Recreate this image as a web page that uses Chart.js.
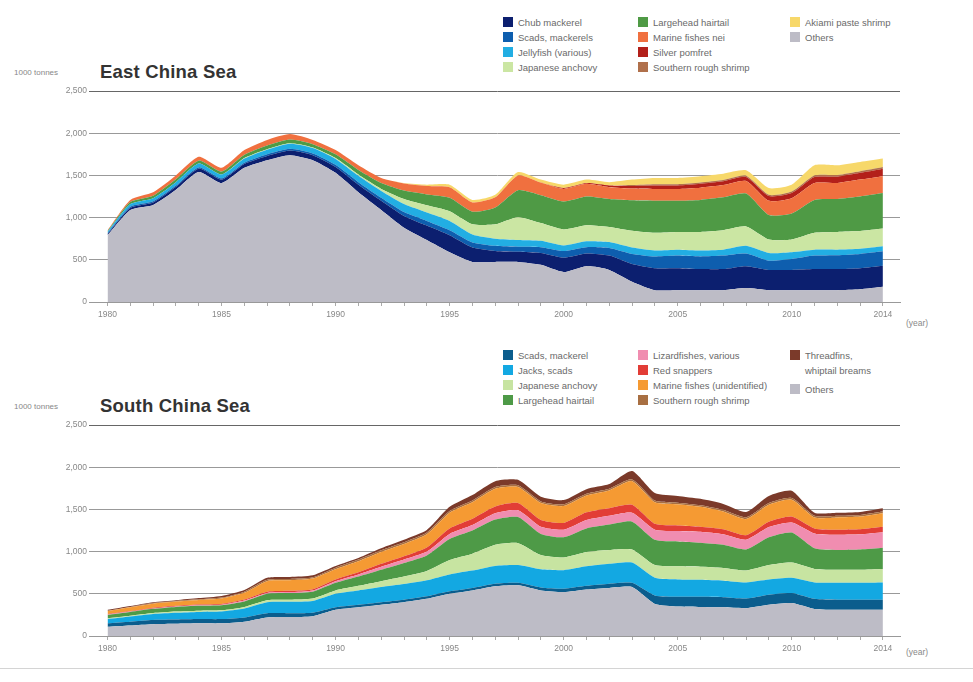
<!DOCTYPE html>
<html>
<head>
<meta charset="utf-8">
<script src="https://cdn.jsdelivr.net/npm/chart.js@4.4.1/dist/chart.umd.min.js"></script>
<style>
  html, body { margin: 0; padding: 0; background: #fff; }
  body { width: 973px; height: 682px; position: relative; overflow: hidden;
         font-family: "Liberation Sans", Arial, sans-serif; }
  canvas { position: absolute; left: 0; }
  .title { position: absolute; left: 100px; font-weight: bold; font-size: 18.5px; color: #333; letter-spacing: 0.2px; }
  .unit { position: absolute; left: 14px; font-size: 8px; color: #888; }
  .yearlbl { position: absolute; left: 906px; font-size: 8.5px; color: #888; }
  .legend { position: absolute; font-size: 9.5px; color: #6a6a6a; line-height: 15px; }
  .legend .item { position: absolute; white-space: nowrap; padding-left: 15px; }
  .legend .sw { position: absolute; left: 0; top: 2px; width: 10px; height: 10px; }
  .rule { position: absolute; left: 0; top: 668px; width: 973px; height: 0; border-top: 1px solid #d4d4d4; }
</style>
</head>
<body>
<div class="unit" style="top:68px">1000 tonnes</div>
<div class="title" style="top:61px">East China Sea</div>
<div class="yearlbl" style="top:318px">(year)</div>
<div class="legend" id="legTop" style="left:503px; top:15px"></div>

<div class="unit" style="top:402px">1000 tonnes</div>
<div class="title" style="top:395px">South China Sea</div>
<div class="yearlbl" style="top:647px">(year)</div>
<div class="legend" id="legBot" style="left:503px; top:348px"></div>
<div class="rule"></div>

<canvas id="ecs" width="973" height="335" style="top:0px"></canvas>
<canvas id="scs" width="973" height="340" style="top:340px"></canvas>

<script>
// Years and labelled ticks shared by both panels
const years = [];
for (let y = 1980; y <= 2014; y++) years.push(y);
const yearTicks = [1980, 1985, 1990, 1995, 2000, 2005, 2010, 2014];
const valueTicks = [0, 500, 1000, 1500, 2000, 2500];

// East China Sea catches, 1000 tonnes (stacked bottom to top)
const ecsOthers    = [790,1090,1150,1330,1540,1410,1590,1680,1740,1680,1530,1300,1090,880,735,590,475,475,475,440,355,425,380,240,140,140,140,140,165,140,140,140,140,150,180];
const ecsChub      = [15,25,30,35,40,40,45,50,55,60,70,90,110,140,170,200,170,130,120,140,170,150,170,210,260,260,250,250,260,240,240,250,250,250,250];
const ecsScads     = [10,15,15,15,15,15,15,20,20,20,25,30,35,45,55,60,60,60,60,70,80,75,90,120,140,150,150,160,150,110,130,160,165,170,170];
const ecsJelly     = [15,30,35,40,45,45,50,55,60,65,70,75,80,95,100,110,95,85,80,75,65,70,70,75,70,70,70,70,90,90,80,70,65,60,60];
const ecsAnchovy   = [0,0,0,0,0,0,5,5,5,5,10,15,25,60,85,115,120,170,270,210,190,190,180,200,210,210,220,230,230,160,150,200,210,210,210];
const ecsHairtail  = [10,25,30,35,35,35,40,45,45,40,45,55,70,100,130,160,150,200,320,330,330,340,330,360,380,370,380,390,390,290,310,390,390,410,420];
const ecsMarine    = [10,25,40,45,45,45,55,65,65,50,50,55,60,85,100,125,110,120,175,150,150,150,140,140,140,140,145,145,150,170,180,200,190,200,200];
const ecsPomfret   = [0,0,0,0,0,0,0,0,0,0,0,0,0,0,0,0,0,0,0,0,10,10,20,30,40,40,45,45,45,55,60,70,75,80,90];
const ecsShrimp    = [0,0,0,0,0,0,0,0,0,0,0,0,0,0,0,0,0,0,0,0,0,0,0,10,15,15,15,15,15,15,20,20,20,20,20];
const ecsAkiami    = [0,0,0,0,0,0,0,0,0,0,0,0,0,5,15,30,30,30,40,35,40,40,40,65,75,75,75,75,65,80,80,120,115,110,100];

// South China Sea catches, 1000 tonnes (stacked bottom to top)
const scsOthers    = [110,125,140,145,150,150,170,220,225,235,310,340,370,400,440,500,540,590,600,540,520,550,570,580,380,350,345,340,330,370,390,320,310,310,310];
const scsScads     = [40,45,50,50,50,50,50,50,45,40,30,30,30,30,30,30,30,30,30,35,40,45,50,50,100,115,120,120,115,120,120,120,120,120,120];
const scsJacks     = [50,60,70,80,85,90,105,130,135,140,160,170,180,185,190,200,205,210,210,215,220,230,235,240,210,205,200,195,190,180,180,195,200,200,205];
const scsAnchovy   = [10,10,12,15,15,15,20,25,25,30,40,55,70,90,110,170,200,250,260,170,150,170,165,155,150,155,155,150,140,170,180,160,155,155,160];
const scsHairtail  = [40,45,50,55,58,60,65,75,78,80,90,110,135,160,185,250,275,300,310,250,240,280,300,330,300,295,285,275,250,330,355,245,235,240,250];
const scsLizard    = [5,5,5,5,5,5,10,10,12,15,20,25,35,40,45,60,65,75,80,85,90,100,105,105,120,125,130,125,115,120,120,175,180,180,185];
const scsRed       = [5,5,8,8,10,10,12,15,15,15,20,25,35,40,50,65,75,80,85,80,80,90,90,95,70,65,60,60,55,65,70,60,60,60,65];
const scsMarine    = [35,45,48,50,55,65,80,125,125,125,120,130,140,145,155,185,195,210,190,200,200,200,210,280,255,250,235,210,190,200,200,130,145,150,160];
const scsShrimp    = [5,5,7,7,7,10,13,15,15,15,20,20,20,20,20,20,20,20,20,20,20,20,20,20,20,20,20,20,20,20,20,20,20,20,20];
const scsThreadfin = [10,10,10,10,15,20,20,25,25,25,20,20,25,30,30,50,65,70,65,55,50,55,55,100,90,80,75,70,65,85,85,35,35,35,40];

const ecsSeries = [
  { name: 'Others',                 data: ecsOthers,   color: '#bdbcc6' },
  { name: 'Chub mackerel',          data: ecsChub,     color: '#0c1f6f' },
  { name: 'Scads, mackerels',       data: ecsScads,    color: '#0e5eae' },
  { name: 'Jellyfish (various)',    data: ecsJelly,    color: '#22aee3' },
  { name: 'Japanese anchovy',       data: ecsAnchovy,  color: '#cbe6a3' },
  { name: 'Largehead hairtail',     data: ecsHairtail, color: '#4f9a45' },
  { name: 'Marine fishes nei',      data: ecsMarine,   color: '#f0703f' },
  { name: 'Silver pomfret',         data: ecsPomfret,  color: '#b3201a' },
  { name: 'Southern rough shrimp',  data: ecsShrimp,   color: '#b0704b' },
  { name: 'Akiami paste shrimp',    data: ecsAkiami,   color: '#f7d86a' }
];
const scsSeries = [
  { name: 'Others',                       data: scsOthers,    color: '#bdbcc6' },
  { name: 'Scads, mackerel',              data: scsScads,     color: '#0b5d8d' },
  { name: 'Jacks, scads',                 data: scsJacks,     color: '#13a8e2' },
  { name: 'Japanese anchovy',             data: scsAnchovy,   color: '#c7e4a1' },
  { name: 'Largehead hairtail',           data: scsHairtail,  color: '#4e9a47' },
  { name: 'Lizardfishes, various',        data: scsLizard,    color: '#f08db0' },
  { name: 'Red snappers',                 data: scsRed,       color: '#e23d36' },
  { name: 'Marine fishes (unidentified)', data: scsMarine,    color: '#f59a33' },
  { name: 'Southern rough shrimp',        data: scsShrimp,    color: '#a86f42' },
  { name: 'Threadfins,\nwhiptail breams', data: scsThreadfin, color: '#7b3a2a' }
];

// Legend layout: columns of entries, in reading order of each panel
const ecsLegendCols = [
  ['Chub mackerel', 'Scads, mackerels', 'Jellyfish (various)', 'Japanese anchovy'],
  ['Largehead hairtail', 'Marine fishes nei', 'Silver pomfret', 'Southern rough shrimp'],
  ['Akiami paste shrimp', 'Others']
];
const scsLegendCols = [
  ['Scads, mackerel', 'Jacks, scads', 'Japanese anchovy', 'Largehead hairtail'],
  ['Lizardfishes, various', 'Red snappers', 'Marine fishes (unidentified)', 'Southern rough shrimp'],
  ['Threadfins,\nwhiptail breams', 'Others']
];

function buildLegend(el, cols, series) {
  const colX = [0, 135, 287];
  cols.forEach((col, ci) => {
    let rowY = 0;
    col.forEach(name => {
      const s = series.find(d => d.name === name);
      const item = document.createElement('div');
      item.className = 'item';
      item.style.left = colX[ci] + 'px';
      item.style.top = rowY + 'px';
      const sw = document.createElement('span');
      sw.className = 'sw';
      sw.style.background = s.color;
      item.appendChild(sw);
      const lines = name.split('\n');
      lines.forEach((ln, i) => {
        if (i) item.appendChild(document.createElement('br'));
        item.appendChild(document.createTextNode(ln));
      });
      el.appendChild(item);
      rowY += 15 * lines.length + (lines.length > 1 ? 4 : 0);
    });
  });
}
buildLegend(document.getElementById('legTop'), ecsLegendCols, ecsSeries);
buildLegend(document.getElementById('legBot'), scsLegendCols, scsSeries);

function makeChart(id, series, padTop, axisHeight) {
  const ctx = document.getElementById(id);
  const datasets = series.map((s, i) => ({
    label: s.name,
    data: years.map((yr, k) => ({ x: yr, y: s.data[k] })),
    backgroundColor: s.color,
    borderColor: s.color,
    borderWidth: 0,
    pointRadius: 0,
    tension: 0.2,
    fill: i === 0 ? 'origin' : '-1'
  }));
  return new Chart(ctx, {
    type: 'line',
    data: { datasets },
    options: {
      responsive: false,
      animation: false,
      devicePixelRatio: 1,
      layout: { padding: { top: padTop, right: 73, left: 0, bottom: 0 } },
      plugins: { legend: { display: false }, tooltip: { enabled: false } },
      scales: {
        x: {
          type: 'linear',
          min: 1979.45,
          max: 2014.75,
          afterBuildTicks: sc => { sc.ticks = years.map(v => ({ value: v })); },
          afterFit: sc => { sc.height = axisHeight; },
          ticks: {
            autoSkip: false,
            maxRotation: 0,
            padding: 4,
            color: '#888',
            font: { size: 8.5, family: 'Liberation Sans, Arial, sans-serif' },
            callback: v => (yearTicks.includes(v) ? String(v) : '')
          },
          grid: { drawOnChartArea: false, drawTicks: true, tickLength: 4, color: '#aaa' },
          border: { display: true, color: '#999' }
        },
        y: {
          stacked: true,
          min: 0,
          max: 2500,
          afterBuildTicks: sc => { sc.ticks = valueTicks.map(v => ({ value: v })); },
          afterFit: sc => { sc.width = 95; },
          ticks: {
            padding: 2,
            color: '#888',
            font: { size: 8.5, family: 'Liberation Sans, Arial, sans-serif' },
            callback: v => v.toLocaleString('en-US')
          },
          grid: {
            color: c => (c.tick && c.tick.value === 2500 ? '#666' : '#999'),
            lineWidth: 1,
            tickLength: 6
          },
          border: { display: false }
        }
      }
    }
  });
}

makeChart('ecs', ecsSeries, 91, 33);
makeChart('scs', scsSeries, 85, 44);
</script>
</body>
</html>
